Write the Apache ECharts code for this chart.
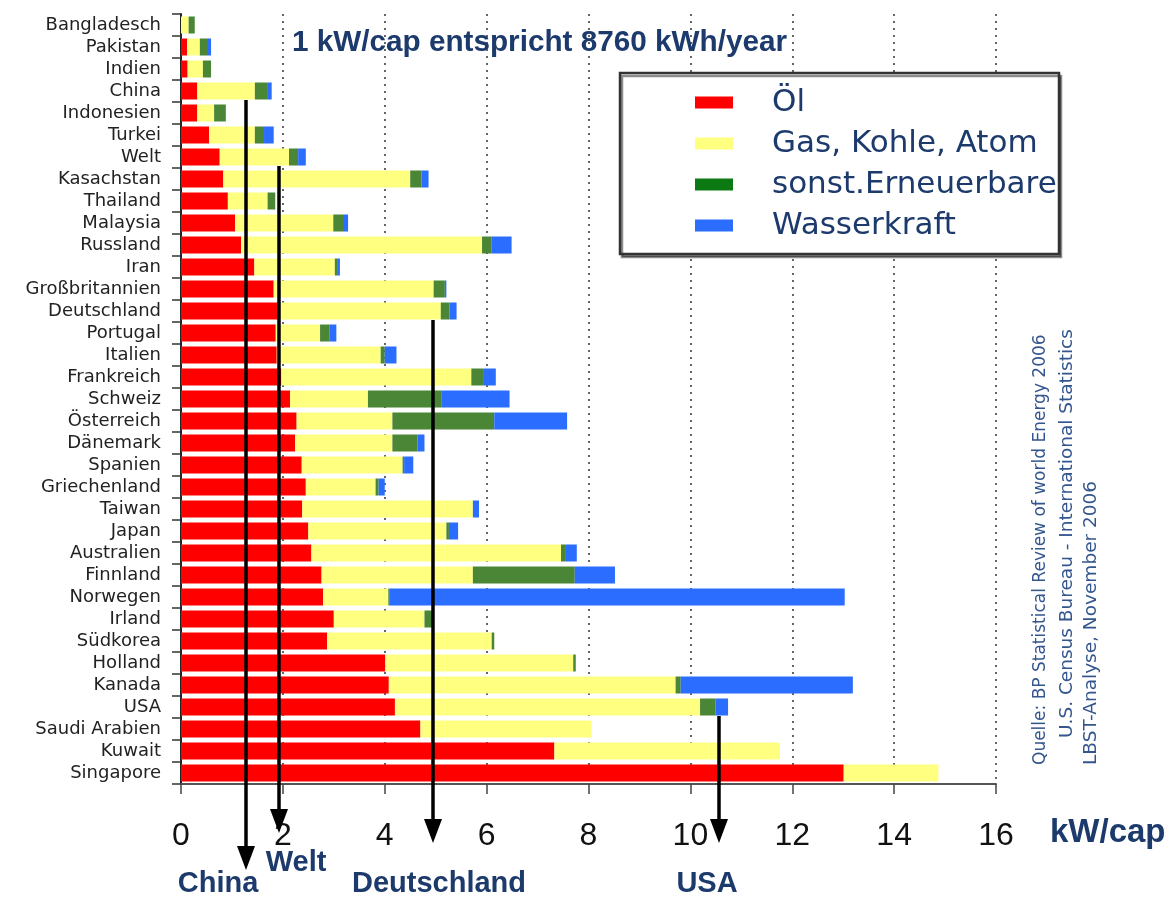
<!DOCTYPE html>
<html>
<head>
<meta charset="utf-8">
<script src="https://cdn.jsdelivr.net/npm/echarts@6/dist/echarts.min.js"></script>
<style>
  html, body { margin: 0; padding: 0; background: #fff; }
  #chart { width: 1176px; height: 900px; }
</style>
</head>
<body>
<div id="chart"></div>
<script>
// Länder (von oben nach unten)
var laender = ['Bangladesch', 'Pakistan', 'Indien', 'China', 'Indonesien', 'Turkei', 'Welt',
  'Kasachstan', 'Thailand', 'Malaysia', 'Russland', 'Iran', 'Großbritannien', 'Deutschland',
  'Portugal', 'Italien', 'Frankreich', 'Schweiz', 'Österreich', 'Dänemark', 'Spanien',
  'Griechenland', 'Taiwan', 'Japan', 'Australien', 'Finnland', 'Norwegen', 'Irland',
  'Südkorea', 'Holland', 'Kanada', 'USA', 'Saudi Arabien', 'Kuwait', 'Singapore'];

// kW pro Kopf
var oel = [0, 0.12, 0.13, 0.32, 0.32, 0.55, 0.76, 0.83, 0.92, 1.06, 1.18, 1.44, 1.82, 1.94,
  1.86, 1.88, 1.97, 2.14, 2.27, 2.24, 2.37, 2.45, 2.38, 2.50, 2.56, 2.76, 2.79, 3.00,
  2.87, 4.01, 4.08, 4.20, 4.70, 7.33, 13.01];
var gasKohleAtom = [0.15, 0.25, 0.30, 1.13, 0.33, 0.90, 1.36, 3.67, 0.78, 1.93, 4.73, 1.58, 3.14, 3.16,
  0.87, 2.04, 3.73, 1.53, 1.88, 1.91, 1.98, 1.37, 3.35, 2.71, 4.90, 2.97, 1.28, 1.78,
  3.23, 3.69, 5.63, 5.99, 3.36, 4.43, 1.86];
var sonstErneuerbare = [0.12, 0.16, 0.16, 0.24, 0.23, 0.18, 0.18, 0.22, 0.15, 0.19, 0.19, 0.06, 0.22, 0.17,
  0.19, 0.08, 0.23, 1.45, 2.00, 0.49, 0.03, 0.06, 0, 0.05, 0.08, 2.00, 0.03, 0.18,
  0.05, 0.05, 0.10, 0.30, 0, 0, 0];
var wasserkraft = [0, 0.06, 0, 0.09, 0, 0.19, 0.15, 0.14, 0, 0.10, 0.39, 0.04, 0.03, 0.14,
  0.13, 0.23, 0.25, 1.33, 1.43, 0.14, 0.18, 0.12, 0.12, 0.18, 0.23, 0.79, 8.93, 0,
  0, 0, 3.38, 0.25, 0, 0, 0];

// Pfeile (Land, Wert in kW/cap)
var pfeilLaender = ['China', 'Welt', 'Deutschland', 'USA'];
var pfeilWerte = [1.27, 1.92, 4.94, 10.57];

var xTicks = [0, 2, 4, 6, 8, 10, 12, 14, 16];

var navy = '#1c3a6b';
var sans = 'Liberation Sans, Arial, sans-serif';

var myChart = echarts.init(document.getElementById('chart'));

function reihe(name, data, color) {
  return {
    name: name,
    type: 'bar',
    stack: 'summe',
    barWidth: 17,
    data: data,
    itemStyle: { color: color },
    z: 2
  };
}

var option = {
  animation: false,
  backgroundColor: '#fff',
  title: {
    text: '1 kW/cap entspricht 8760 kWh/year',
    left: 292,
    top: 28,
    padding: 0,
    textStyle: { fontFamily: sans, fontWeight: 'bold', fontSize: 29.7, color: navy }
  },
  legend: {
    orient: 'vertical',
    left: 695,
    top: 87,
    padding: 0,
    itemGap: 10,
    itemWidth: 38,
    itemHeight: 12,
    icon: 'rect',
    z: 5,
    textStyle: {
      fontFamily: 'DejaVu Sans, sans-serif',
      fontSize: 31,
      color: navy,
      padding: [0, 0, 0, 34]
    },
    data: [
      { name: 'Öl', itemStyle: { color: '#ff0000' } },
      { name: 'Gas, Kohle, Atom', itemStyle: { color: '#ffff80' } },
      { name: 'sonst.Erneuerbare', itemStyle: { color: '#0b7a12' } },
      { name: 'Wasserkraft', itemStyle: { color: '#2a6dff' } }
    ]
  },
  grid: { left: 181, top: 14, width: 815, height: 770 },
  xAxis: {
    type: 'value',
    min: xTicks[0],
    max: xTicks[xTicks.length - 1],
    interval: 2,
    axisLine: { show: true, lineStyle: { color: '#555', width: 2 } },
    axisTick: { show: true, length: 10, lineStyle: { color: '#444', width: 1.5 } },
    axisLabel: {
      margin: 36,
      fontFamily: sans,
      fontSize: 32,
      color: '#111'
    },
    splitLine: { show: true, lineStyle: { color: '#333', width: 1.5, type: [2, 5] } }
  },
  yAxis: {
    type: 'category',
    inverse: true,
    data: laender,
    axisLine: { show: true, lineStyle: { color: '#222', width: 2 } },
    axisTick: { show: true, interval: 0, length: 9, lineStyle: { color: '#333', width: 1.5 } },
    axisLabel: {
      interval: 0,
      margin: 20,
      fontFamily: 'DejaVu Sans, sans-serif',
      fontSize: 18,
      color: '#222'
    },
    splitLine: { show: false }
  },
  series: [
    reihe('Öl', oel, '#ff0000'),
    reihe('Gas, Kohle, Atom', gasKohleAtom, '#ffff80'),
    reihe('sonst.Erneuerbare', sonstErneuerbare, '#4b8636'),
    reihe('Wasserkraft', wasserkraft, '#2a6dff')
  ]
};

myChart.setOption(option);

// Legendenrahmen, Pfeile und Beschriftungen
var pfeilSpitzeY = [870, 833, 843, 843];
var pfeilTextPos = [[218, 884], [296, 863], [439, 884], [707, 884]];
var elemente = [
  {
    type: 'rect',
    shape: { x: 620, y: 73, width: 439, height: 181 },
    style: { fill: '#fff', stroke: '#333', lineWidth: 2.5, shadowColor: 'rgba(0,0,0,0.45)', shadowOffsetX: 2, shadowOffsetY: 3 },
    z: 1
  },
  {
    type: 'text',
    x: 1050, y: 833,
    style: { text: 'kW/cap', font: 'bold 33px ' + sans, fill: navy, textAlign: 'left', textVerticalAlign: 'middle' },
    z: 10
  },
  {
    type: 'text',
    x: 1041, y: 765, rotation: Math.PI / 2,
    style: { text: 'Quelle: BP Statistical Review of world Energy 2006', font: '17px DejaVu Sans, sans-serif', fill: '#34568f', textAlign: 'left', textVerticalAlign: 'middle' },
    z: 10
  },
  {
    type: 'text',
    x: 1067, y: 738, rotation: Math.PI / 2,
    style: { text: 'U.S. Census Bureau - International Statistics', font: '18.5px DejaVu Sans, sans-serif', fill: '#34568f', textAlign: 'left', textVerticalAlign: 'middle' },
    z: 10
  },
  {
    type: 'text',
    x: 1091, y: 765, rotation: Math.PI / 2,
    style: { text: 'LBST-Analyse, November 2006', font: '18.5px DejaVu Sans, sans-serif', fill: '#34568f', textAlign: 'left', textVerticalAlign: 'middle' },
    z: 10
  }
];

pfeilLaender.forEach(function (land, i) {
  var p = myChart.convertToPixel({ gridIndex: 0 }, [pfeilWerte[i], land]);
  var x = Math.round(p[0]);
  var y0 = p[1] + 9;
  var tip = pfeilSpitzeY[i];
  elemente.push({
    type: 'line',
    shape: { x1: x, y1: y0, x2: x, y2: tip - 20 },
    style: { stroke: '#000', lineWidth: 3.5 },
    z: 10
  });
  elemente.push({
    type: 'polygon',
    shape: { points: [[x - 9, tip - 24], [x + 9, tip - 24], [x, tip]] },
    style: { fill: '#000' },
    z: 10
  });
  elemente.push({
    type: 'text',
    x: pfeilTextPos[i][0], y: pfeilTextPos[i][1],
    style: { text: land, font: 'bold 29px ' + sans, fill: navy, textAlign: 'center', textVerticalAlign: 'middle' },
    z: 10
  });
});

myChart.setOption({ graphic: { elements: elemente } });
</script>
</body>
</html>
